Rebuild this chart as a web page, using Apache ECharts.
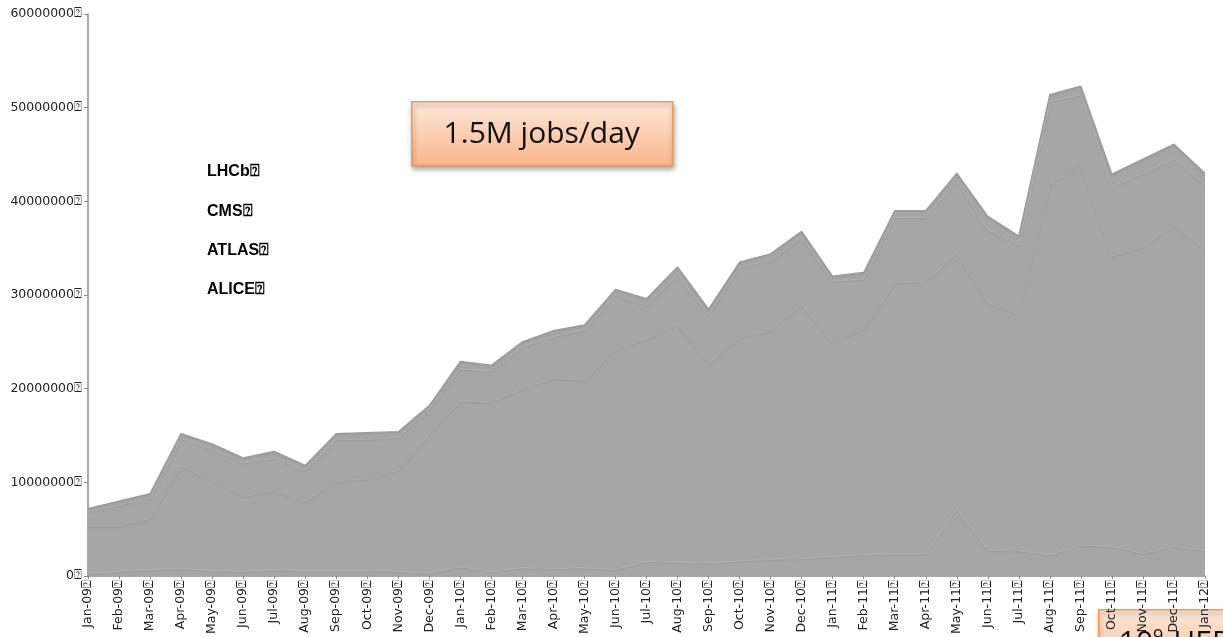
<!DOCTYPE html>
<html>
<head>
<meta charset="utf-8">
<script src="https://cdn.jsdelivr.net/npm/echarts@6/dist/echarts.min.js"></script>
<style>
  html, body { margin: 0; padding: 0; background: #fff; }
  #chart { width: 1223px; height: 637px; }
</style>
</head>
<body>
<div id="chart"></div>
<script>
// Monthly job counts per LHC experiment, Jan 2009 - Jan 2012
const months = [
  'Jan-09','Feb-09','Mar-09','Apr-09','May-09','Jun-09','Jul-09','Aug-09','Sep-09','Oct-09','Nov-09','Dec-09',
  'Jan-10','Feb-10','Mar-10','Apr-10','May-10','Jun-10','Jul-10','Aug-10','Sep-10','Oct-10','Nov-10','Dec-10',
  'Jan-11','Feb-11','Mar-11','Apr-11','May-11','Jun-11','Jul-11','Aug-11','Sep-11','Oct-11','Nov-11','Dec-11',
  'Jan-12'
];

const alice = [
  0.3e6, 0.5e6, 0.7e6, 0.8e6, 0.6e6, 0.5e6, 0.7e6, 0.6e6, 0.6e6, 0.6e6, 0.5e6, 0.3e6,
  1.0e6, 0.5e6, 0.9e6, 0.8e6, 0.9e6, 0.7e6, 1.6e6, 1.5e6, 1.4e6, 1.6e6, 1.8e6, 1.9e6,
  2.1e6, 2.3e6, 2.4e6, 2.4e6, 7.2e6, 2.8e6, 2.7e6, 2.3e6, 3.3e6, 3.2e6, 2.4e6, 3.2e6,
  2.7e6
];
const atlas = [
  5.0e6, 4.8e6, 5.5e6, 11.0e6, 9.6e6, 8.0e6, 8.4e6, 7.4e6, 9.5e6, 9.8e6, 10.8e6, 14.9e6,
  17.7e6, 18.1e6, 19.1e6, 20.3e6, 20.0e6, 23.6e6, 23.7e6, 25.4e6, 21.3e6, 23.9e6, 24.4e6, 27.1e6,
  22.9e6, 24.1e6, 28.9e6, 29.1e6, 27.3e6, 26.4e6, 25.3e6, 39.5e6, 40.8e6, 31.0e6, 32.8e6, 34.2e6,
  32.2e6
];
const cms = [
  1.6e6, 2.3e6, 2.1e6, 2.9e6, 3.4e6, 3.6e6, 3.5e6, 3.3e6, 4.5e6, 4.2e6, 3.5e6, 2.7e6,
  3.4e6, 3.3e6, 4.5e6, 4.5e6, 5.4e6, 5.7e6, 3.6e6, 5.3e6, 5.2e6, 7.5e6, 7.5e6, 7.2e6,
  6.5e6, 5.3e6, 7.0e6, 6.8e6, 7.7e6, 7.8e6, 7.4e6, 8.9e6, 7.3e6, 7.4e6, 7.8e6, 7.2e6,
  6.9e6
];
const lhcb = [
  0.3e6, 0.4e6, 0.5e6, 0.5e6, 0.5e6, 0.5e6, 0.7e6, 0.5e6, 0.6e6, 0.7e6, 0.6e6, 0.3e6,
  0.8e6, 0.6e6, 0.5e6, 0.6e6, 0.5e6, 0.6e6, 0.7e6, 0.8e6, 0.6e6, 0.5e6, 0.7e6, 0.6e6,
  0.5e6, 0.7e6, 0.7e6, 0.7e6, 0.8e6, 1.4e6, 0.9e6, 0.7e6, 0.9e6, 1.3e6, 1.5e6, 1.5e6,
  1.2e6
];

const yTicks = { min: 0, max: 60000000, step: 10000000 };
const labelNames = ['LHCb', 'CMS', 'ATLAS', 'ALICE'];
const glyphTail = '\u2370';

const chart = echarts.init(document.getElementById('chart'), null, { renderer: 'canvas' });

// One stacked layer; the boundary is a faint light ridge with a soft shadow
function layer(name, data, z, edge) {
  return {
    name: name,
    type: 'line',
    stack: 'jobs',
    data: data,
    symbol: 'none',
    z: z,
    lineStyle: {
      color: edge,
      width: 1.3,
      shadowColor: 'rgba(0,0,0,0.08)',
      shadowBlur: 2,
      shadowOffsetY: 1
    },
    areaStyle: { color: '#a6a6a6', opacity: 1 },
    emphasis: { disabled: true }
  };
}

const nameTexts = labelNames.map((n, i) => ({
  type: 'text',
  left: 207,
  top: 164 + i * 39.3,
  style: {
    text: n + glyphTail,
    font: 'bold 16px "Liberation Sans", "DejaVu Sans", sans-serif',
    fill: '#000'
  }
}));

const peach = () => new echarts.graphic.LinearGradient(0, 0, 0, 1, [
  { offset: 0, color: '#fde9dc' },
  { offset: 1, color: '#fab589' }
]);

chart.setOption({
  animation: false,
  backgroundColor: '#ffffff',
  grid: { left: 88, right: 18, top: 14, bottom: 59, containLabel: false },
  xAxis: {
    type: 'category',
    data: months,
    boundaryGap: false,
    axisLine: { show: true, lineStyle: { color: '#8c8c8c', width: 1.5 } },
    axisTick: { show: true, alignWithLabel: true, length: 3, lineStyle: { color: '#8c8c8c' } },
    axisLabel: {
      interval: 0,
      rotate: 90,
      margin: 4,
      color: '#222',
      fontSize: 12.5,
      fontFamily: '"DejaVu Sans", sans-serif',
      formatter: v => v + glyphTail
    },
    splitLine: { show: false }
  },
  yAxis: {
    type: 'value',
    min: yTicks.min,
    max: yTicks.max,
    interval: yTicks.step,
    axisLine: { show: true, lineStyle: { color: '#8c8c8c', width: 1.5 } },
    axisTick: { show: true, length: 4, lineStyle: { color: '#8c8c8c' } },
    axisLabel: {
      margin: 6,
      color: '#222',
      fontSize: 12.5,
      fontFamily: '"DejaVu Sans", sans-serif',
      formatter: v => v + glyphTail
    },
    splitLine: { show: false }
  },
  series: [
    layer('ALICE', alice, 4, '#acacac'),
    layer('ATLAS', atlas, 3, '#a9a9a9'),
    layer('CMS', cms, 2, '#acacac'),
    layer('LHCb', lhcb, 1, '#9b9b9b')
  ],
  graphic: [
    ...nameTexts,
    {
      type: 'group',
      left: 411,
      top: 101,
      children: [
        {
          type: 'rect',
          shape: { x: 0, y: 0, width: 261, height: 64 },
          style: {
            fill: peach(),
            stroke: '#f39a52',
            lineWidth: 1.5,
            shadowColor: 'rgba(0,0,0,0.35)',
            shadowBlur: 5,
            shadowOffsetX: 1,
            shadowOffsetY: 3
          }
        },
        {
          type: 'text',
          x: 130,
          y: 33,
          style: {
            text: '1.5M jobs/day',
            font: '30px "Open Sans", "Noto Sans", sans-serif',
            fill: '#111',
            align: 'center',
            verticalAlign: 'middle'
          }
        }
      ]
    },
    {
      type: 'group',
      left: 1098,
      top: 609,
      children: [
        {
          type: 'rect',
          shape: { x: 0, y: 0, width: 300, height: 64 },
          style: {
            fill: peach(),
            stroke: '#f39a52',
            lineWidth: 1.5,
            shadowColor: 'rgba(0,0,0,0.35)',
            shadowBlur: 5,
            shadowOffsetX: 1,
            shadowOffsetY: 3
          }
        },
        {
          type: 'text',
          x: 20,
          y: 34,
          style: {
            rich: {
              b: { font: '30px "Open Sans", "Noto Sans", sans-serif', fill: '#111' },
              s: { font: '18px "Open Sans", "Noto Sans", sans-serif', fill: '#111', verticalAlign: 'top', padding: [0, 2, 14, 0] }
            },
            text: '{b|10}{s|9}{b| HEP-SPEC06 hours/month}',
            verticalAlign: 'middle'
          }
        }
      ]
    }
  ]
});
</script>
</body>
</html>
